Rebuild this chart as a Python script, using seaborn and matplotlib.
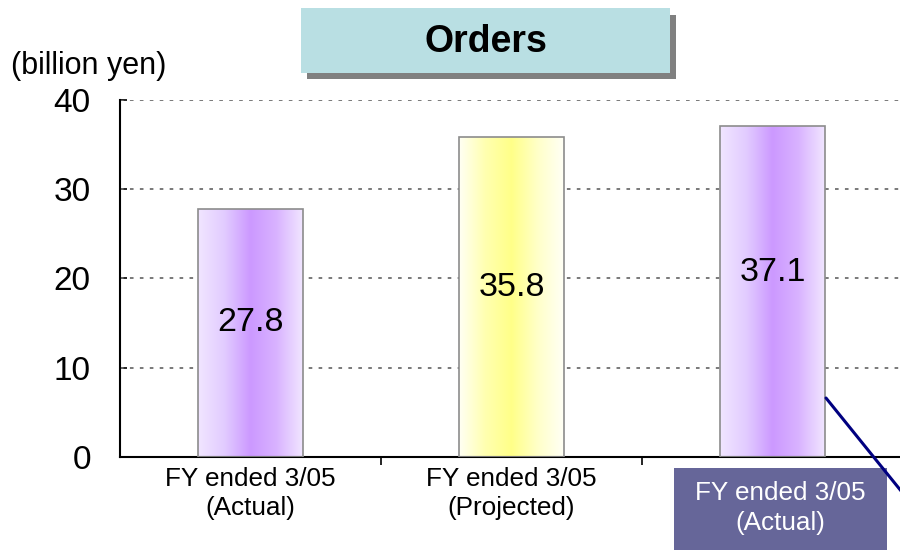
import numpy as np
import pandas as pd
import matplotlib
matplotlib.use("Agg")
import matplotlib.pyplot as plt
from matplotlib.colors import LinearSegmentedColormap
from matplotlib.patches import Rectangle
from matplotlib.lines import Line2D
import seaborn as sns

# data
categories = ["FY ended 3/05\n(Actual)", "FY ended 3/05\n(Projected)", "FY ended 3/05\n(Actual)"]
orders = [27.8, 35.8, 37.1]
label_heights = [15.1, 19.0, 20.7]
bar_styles = ["purple", "yellow", "purple"]
yticks = [0, 10, 20, 30, 40]

sns.set_style("white")
plt.rcParams["font.family"] = ["Liberation Sans", "DejaVu Sans"]
plt.rcParams["text.color"] = "black"
plt.rcParams["xtick.color"] = "black"
plt.rcParams["ytick.color"] = "black"

W, H = 900, 551
fig = plt.figure(figsize=(9, 5.51), dpi=100)


def px(x, y):
    return x / W, 1 - y / H


ax = fig.add_axes([120 / W, 1 - 457 / H, 783 / W, 357 / H])
df = pd.DataFrame({"period": range(len(orders)), "orders": orders})
sns.barplot(data=df, x="period", y="orders", width=0.4, color="white",
            edgecolor="#8c8c8c", linewidth=1.2, ax=ax, zorder=3)

# horizontal gradient fills clipped to each bar
cmaps = {
    "purple": LinearSegmentedColormap.from_list(
        "p", ["#F1E6FF", "#E2CCFF", "#CC99FF", "#D9B3FF", "#F1E6FF"]),
    "yellow": LinearSegmentedColormap.from_list(
        "y", ["#FFFFF4", "#FFFFB0", "#FFFF88", "#FFFFC8", "#FFFFF6"]),
}
grad = np.linspace(0, 1, 256).reshape(1, -1)
for patch, style in zip(ax.patches, bar_styles):
    patch.set_facecolor("none")
    x0, y0 = patch.get_x(), patch.get_y()
    w, h = patch.get_width(), patch.get_height()
    im = ax.imshow(grad, cmap=cmaps[style], aspect="auto",
                   extent=[x0, x0 + w, y0, y0 + h], zorder=2.5)
    im.set_clip_path(patch)

for i, (v, hgt) in enumerate(zip(orders, label_heights)):
    ax.text(i, hgt, f"{v:.1f}", ha="center", va="center", fontsize=24.5, zorder=4)

ax.set_xlim(-0.5, 2.5)
ax.set_ylim(0, 40)
ax.set_yticks(yticks)
ax.set_yticklabels([str(t) for t in yticks], fontsize=24)
ax.set_xticks(range(len(categories)))
ax.set_xticklabels(categories[:2] + [""], fontsize=18.8, linespacing=1.3)
ax.set_xticks([0.5, 1.5], minor=True)
ax.tick_params(axis="x", which="major", length=0, pad=7, bottom=True)
ax.tick_params(axis="x", which="minor", length=6, width=1.2, color="black",
               direction="out", bottom=True)
ax.tick_params(axis="y", length=5, width=1.2, direction="in", pad=21, left=True, color="black")
ax.set_xlabel("")
ax.set_ylabel("")

for yv in yticks[1:]:
    ax.axhline(yv, color="#6e6e6e", lw=1.3, ls=(0, (2, 3.5)), zorder=1)

for s in ["top", "right"]:
    ax.spines[s].set_visible(False)
ax.spines["left"].set_color("black")
ax.spines["left"].set_linewidth(1.5)
ax.spines["bottom"].set_color("black")
ax.spines["bottom"].set_linewidth(1.5)
ax.set_facecolor("none")

# unit label
fig.text(*px(11, 66), "(billion yen)", fontsize=22, va="center", ha="left")

# title box with shadow
fig.patches.append(Rectangle(px(307, 79), 369 / W, 64 / H, transform=fig.transFigure,
                             facecolor="#808080", edgecolor="none", zorder=0))
fig.patches.append(Rectangle(px(301, 73), 369 / W, 65 / H, transform=fig.transFigure,
                             facecolor="#B9DFE3", edgecolor="none", zorder=1))
fig.text(*px(486, 42), "Orders", fontsize=27, fontweight="bold", ha="center", va="center", zorder=2)

# highlighted third category label
fig.patches.append(Rectangle(px(674, 550), 213 / W, 82 / H, transform=fig.transFigure,
                             facecolor="#666699", edgecolor="none", zorder=1))
fig.text(*px(780, 508), categories[2], fontsize=18.8, color="white", ha="center",
         va="center", linespacing=1.3, zorder=2)

# connector line
fig.lines.append(Line2D([826 / W, 910 / W], [1 - 398 / H, 1 - 502 / H],
                        transform=fig.transFigure, color="#000080", lw=2.2, zorder=5))

fig.savefig("out.png", dpi=100)
